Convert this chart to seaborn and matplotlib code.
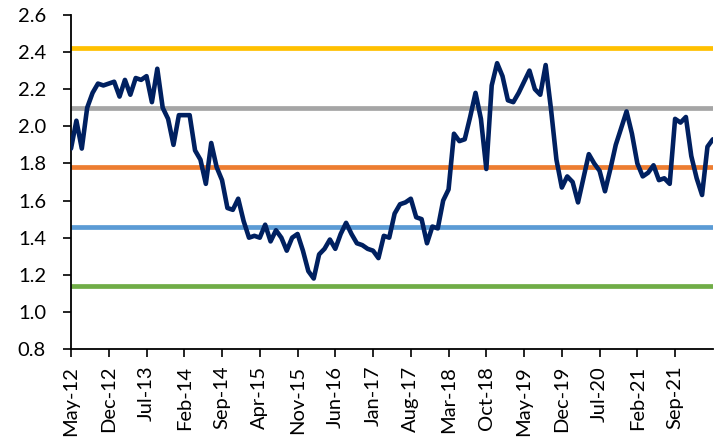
import pandas as pd
import matplotlib
matplotlib.use("Agg")
import matplotlib.pyplot as plt
import seaborn as sns

# monthly series, May-12 .. Apr-22
months = pd.date_range("2012-05-01", periods=120, freq="MS")
values = [
    1.88, 2.03, 1.88, 2.10, 2.18, 2.23, 2.22, 2.23, 2.24, 2.16,
    2.25, 2.17, 2.26, 2.25, 2.27, 2.13, 2.31, 2.10, 2.04, 1.90,
    2.06, 2.06, 2.06, 1.87, 1.82, 1.69, 1.91, 1.78, 1.71, 1.56,
    1.55, 1.61, 1.49, 1.40, 1.41, 1.40, 1.47, 1.38, 1.44, 1.40,
    1.33, 1.40, 1.42, 1.33, 1.22, 1.18, 1.31, 1.34, 1.39, 1.34,
    1.42, 1.48, 1.42, 1.37, 1.36, 1.34, 1.33, 1.29, 1.41, 1.40,
    1.53, 1.58, 1.59, 1.61, 1.51, 1.50, 1.37, 1.46, 1.45, 1.60,
    1.66, 1.96, 1.92, 1.93, 2.05, 2.18, 2.04, 1.77, 2.22, 2.34,
    2.27, 2.14, 2.13, 2.18, 2.24, 2.30, 2.20, 2.17, 2.33, 2.09,
    1.82, 1.67, 1.73, 1.70, 1.59, 1.72, 1.85, 1.80, 1.76, 1.65,
    1.77, 1.90, 1.99, 2.08, 1.96, 1.80, 1.73, 1.75, 1.79, 1.71,
    1.72, 1.69, 2.04, 2.02, 2.05, 1.84, 1.72, 1.63, 1.89, 1.93,
]

# mean and +/- 1, 2 std bands
band_levels = [2.42, 2.10, 1.78, 1.46, 1.14]
band_colors = ["#FFC000", "#A5A5A5", "#ED7D31", "#5B9BD5", "#70AD47"]

df = pd.DataFrame({"idx": range(len(values)), "value": values})
tick_idx = list(range(0, 113, 7))
tick_labels = [months[i].strftime("%b-%y") for i in tick_idx]

sns.set_style("white")
plt.rcParams["font.family"] = ["Lato", "DejaVu Sans"]

fig = plt.figure(figsize=(7.15, 4.38), dpi=100)
ax = fig.add_axes([0.0993, 0.203, 0.8977, 0.763])

for lvl, c in zip(band_levels, band_colors):
    ax.axhline(lvl, color=c, linewidth=3.4, zorder=2)

sns.lineplot(data=df, x="idx", y="value", color="#002060", linewidth=3.3, ax=ax, zorder=3)
ax.lines[-1].set_solid_joinstyle("round")

ax.set_xlim(0, len(values) - 1)
ax.set_ylim(0.8, 2.6)
ax.set_yticks([0.8, 1.0, 1.2, 1.4, 1.6, 1.8, 2.0, 2.2, 2.4, 2.6])
ax.set_yticklabels(["0.8", "1.0", "1.2", "1.4", "1.6", "1.8", "2.0", "2.2", "2.4", "2.6"])
ax.set_xticks(tick_idx)
ax.set_xticklabels(tick_labels, rotation=90)
ax.set_xlabel("")
ax.set_ylabel("")
ax.tick_params(axis="both", direction="out", length=6, width=1.2, color="black",
               labelsize=14.5, labelcolor="black", bottom=True, left=True)
ax.tick_params(axis="y", pad=12)
ax.tick_params(axis="x", pad=6)
for s in ["top", "right"]:
    ax.spines[s].set_visible(False)
for s in ["left", "bottom"]:
    ax.spines[s].set_color("black")
    ax.spines[s].set_linewidth(1.3)

fig.savefig("out.png", dpi=100)
